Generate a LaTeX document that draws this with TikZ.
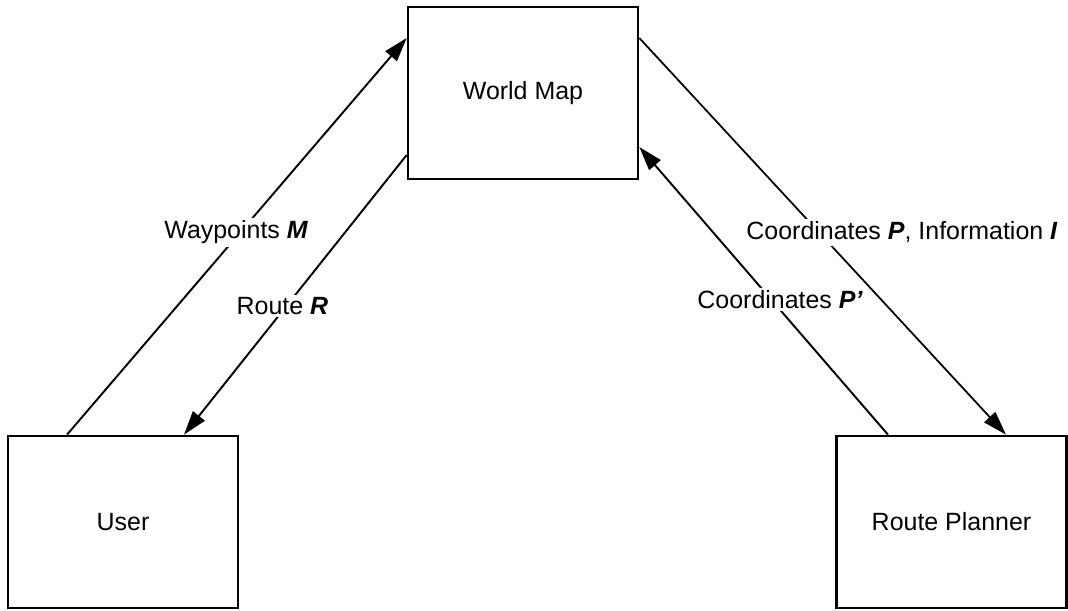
\documentclass[tikz,border=0pt]{standalone}
\usepackage{fontspec}
\setmainfont{Liberation Sans}
\usetikzlibrary{arrows.meta}

\begin{document}
\begin{tikzpicture}[>={Triangle[length=0.48cm,width=0.3cm]},
  box/.style={draw,line width=1.5pt,minimum width=4.6cm,minimum height=3.44cm},
  lbl/.style={fill=white,inner sep=1.5pt},
  font=\fontsize{14.2pt}{17pt}\selectfont]
\useasboundingbox (0,0) rectangle (21.36,12.2);
\node[box] (map) at (10.46,10.34) {World Map};
\node[box] (user) at (2.46,1.76) {User};
\node[box] (planner) at (19.03,1.76) {Route Planner};
% user <-> map
\draw[->,line width=1.1pt] ([xshift=-1.12cm]user.north) -- ([yshift=1.1cm]map.west)
  node[lbl,pos=0.51,xshift=-0.08cm] {Waypoints \textbf{\textit{M}}};
\draw[->,line width=1.1pt] ([yshift=-1.24cm]map.west) -- ([xshift=1.22cm]user.north)
  node[lbl,pos=0.54,xshift=-0.08cm] {Route \textbf{\textit{R}}};
% map <-> planner
\draw[->,line width=1pt] ([yshift=1.1cm]map.east) -- ([xshift=1.09cm]planner.north)
  node[lbl,pos=0.49,xshift=1.66cm] {Coordinates \textbf{\textit{P}}, Information \textbf{\textit{I}}};
\draw[->,line width=1.1pt] ([xshift=-1.27cm]planner.north) -- ([yshift=-1.08cm]map.east)
  node[lbl,pos=0.47,xshift=0.18cm] {Coordinates \textbf{\textit{P'}}};
\end{tikzpicture}
\end{document}
